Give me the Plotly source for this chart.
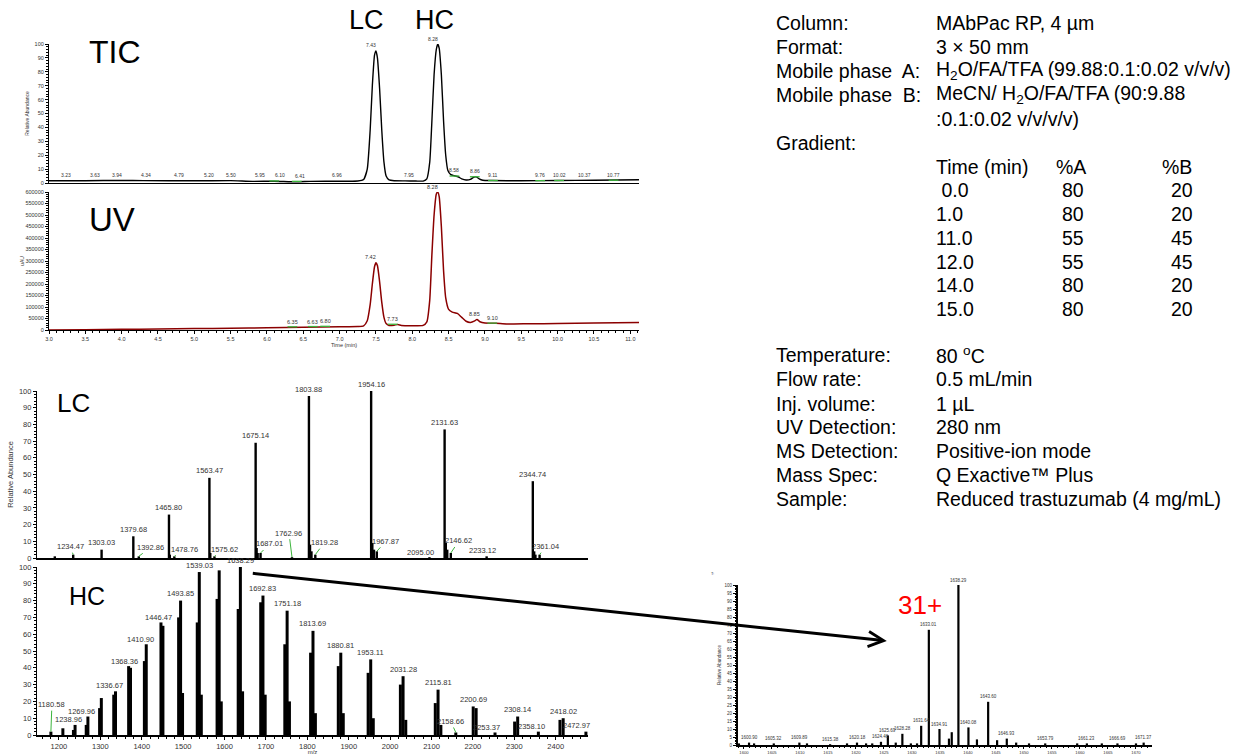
import plotly.graph_objects as go

W, H = 1248, 755

# ---------------- DATA ----------------
# TIC chromatogram: time (min) / relative abundance (%)
tic_t = [3.00, 3.50, 4.00, 4.30, 5.00, 5.50, 5.80, 6.10, 6.40, 6.60, 7.00, 7.25, 7.33, 7.38, 7.42,
         7.45, 7.48, 7.50, 7.52, 7.55, 7.58, 7.61, 7.64, 7.68, 7.75, 7.90, 8.05, 8.15, 8.20, 8.24,
         8.27, 8.30, 8.33, 8.35, 8.37, 8.40, 8.43, 8.46, 8.49, 8.53, 8.58, 8.63, 8.68, 8.74, 8.80,
         8.85, 8.88, 8.92, 8.97, 9.10, 9.50, 10.00, 10.50, 11.12]
tic_i = [1.6, 1.6, 1.9, 1.7, 1.6, 1.7, 1.2, 1.3, 0.9, 1.2, 1.3, 1.4, 2.5, 10, 38,
         70, 92, 95, 90, 68, 38, 15, 5, 2.2, 1.6, 1.5, 1.4, 1.4, 3, 15,
         45, 78, 96, 100, 97, 78, 45, 20, 9, 6, 5.2, 4.5, 3, 2.2, 2.6,
         4.2, 4.4, 3, 2, 1.8, 1.6, 1.8, 2.0, 2.3]
tic_lbl_t = [3.23, 3.63, 3.94, 4.34, 4.79, 5.20, 5.50, 5.95, 6.10, 6.41, 6.96, 7.43, 7.95,
             8.28, 8.58, 8.86, 9.11, 9.76, 10.02, 10.37, 10.77]
tic_lbl_i = [2, 2, 2, 2, 2, 2, 2, 1.5, 1.5, 1.2, 1.5, 95, 1.6, 100, 5.2, 4.4, 1.8, 1.7, 1.8, 1.9, 2.0]
tic_green_t = [6.10, 6.41, 8.58, 8.86, 9.11, 9.76, 10.02, 10.77]
tic_green_i = [1.5, 1.2, 5.0, 4.5, 1.8, 1.7, 1.8, 2.0]

# UV chromatogram: time (min) / signal (uAU)
uv_t = [3.00, 3.50, 4.00, 4.50, 5.00, 5.50, 6.00, 6.50, 7.00, 7.25, 7.33, 7.38, 7.42, 7.45, 7.48,
        7.50, 7.52, 7.55, 7.58, 7.61, 7.64, 7.68, 7.75, 7.80, 7.85, 8.00, 8.15, 8.20, 8.24, 8.27,
        8.30, 8.33, 8.35, 8.37, 8.40, 8.43, 8.46, 8.50, 8.55, 8.62, 8.68, 8.74, 8.80, 8.86, 8.89,
        8.93, 9.00, 9.15, 9.30, 9.60, 10.00, 10.50, 11.12]
uv_i = [0, 1500, 3000, 4500, 6000, 7500, 9500, 12000, 14000, 15000, 18000, 40000, 110000, 200000, 275000,
        292000, 280000, 210000, 120000, 55000, 28000, 20000, 21000, 24000, 20000, 19000, 20000, 35000, 130000, 330000,
        500000, 590000, 600000, 580000, 450000, 260000, 140000, 90000, 78000, 72000, 55000, 38000, 33000, 40000, 46000,
        36000, 30000, 29000, 26000, 27000, 28000, 30000, 33000]
uv_lbl_t = [6.35, 6.63, 6.80, 7.42, 7.73, 8.28, 8.85, 9.10]
uv_lbl_i = [12000, 13000, 14000, 292000, 22000, 600000, 44000, 30000]
uv_green_t = [6.35, 6.63, 6.80, 7.73, 9.10]
uv_green_i = [14000, 15000, 16000, 25000, 30000]

# LC mass spectrum: m/z / relative abundance (%)
lc_mz = [1190.0, 1234.47, 1303.03, 1379.68, 1392.86, 1465.80, 1467.8, 1478.76, 1563.47, 1565.6,
         1575.62, 1675.14, 1677.5, 1680.0, 1687.01, 1762.96, 1803.88, 1806.5, 1810.0, 1819.28,
         1954.16, 1957.0, 1961.0, 1967.87, 2095.00, 2131.63, 2134.5, 2138.0, 2146.62, 2233.12,
         2344.74, 2348.0, 2351.0, 2361.04]
lc_int = [1, 2, 5, 13, 1, 26, 2, 1, 48, 3,
          1, 69, 6, 3, 3, 0.5, 97, 8, 4, 2,
          100, 9, 5, 4, 0.5, 77, 9, 5, 3, 1,
          46, 4, 2, 2]
lc_lbl_plain = [1303.03, 1379.68, 1465.80, 1563.47, 1675.14, 1803.88, 1954.16, 2131.63, 2344.74]
lc_lbl_lead = [1234.47, 1392.86, 1478.76, 1575.62, 1687.01, 1762.96, 1819.28, 1967.87, 2095.00,
               2146.62, 2233.12, 2361.04]

# HC mass spectrum: m/z / relative abundance (%)
hc_mz = [1180.58, 1209.5, 1235.0, 1238.96, 1265.9, 1269.96, 1298.2, 1302.4, 1332.4, 1336.67,
         1368.36, 1372.8, 1406.4, 1410.90, 1446.47, 1451.2, 1489.1, 1493.85, 1498.6, 1534.1,
         1539.03, 1543.9, 1582.0, 1587.1, 1592.1, 1633.01, 1638.29, 1643.60, 1687.4, 1692.83,
         1698.2, 1745.6, 1751.18, 1756.8, 1807.9, 1813.69, 1819.5, 1874.8, 1880.81, 1886.8,
         1946.9, 1953.11, 1959.3, 2024.8, 2031.28, 2037.8, 2109.1, 2115.81, 2122.6, 2158.66,
         2200.69, 2207.8, 2253.37, 2300.8, 2308.14, 2358.10, 2410.3, 2418.02, 2472.97]
hc_int = [2, 4, 3, 6, 6, 11, 16, 22, 24, 26,
          41, 40, 44, 54, 67, 65, 70, 80, 25, 67,
          97, 24, 81, 98, 20, 75, 100, 26, 79, 83,
          24, 54, 74, 20, 49, 62, 13, 41, 49, 13,
          37, 45, 10, 30, 35, 9, 19, 27, 6, 1.5,
          17, 16, 1.5, 8, 11, 2, 9, 10, 2]
hc_lbl_plain = [1493.85, 1539.03, 1638.29, 1692.83, 1751.18, 1813.69, 1880.81, 1953.11,
                2031.28, 2115.81, 2200.69, 2308.14, 2418.02]
hc_lbl_lead = [1180.58, 1238.96, 1269.96, 1336.67, 1368.36, 1410.90, 1446.47, 2158.66,
               2253.37, 2358.10, 2472.97]

# Zoomed HC spectrum (31+ charge state)
zs_mz = [1599.1, 1600.90, 1601.8, 1605.32, 1609.89, 1611.25, 1615.38, 1618.4, 1620.18, 1621.8,
         1622.9, 1624.46, 1625.69, 1627.1, 1628.28, 1629.8, 1630.9, 1631.64, 1633.01, 1634.91,
         1636.6, 1637.1, 1638.29, 1640.08, 1641.6, 1643.60, 1645.2, 1646.93, 1648.6, 1650.9,
         1653.79, 1659.5, 1661.23, 1663.9, 1666.69, 1670.0, 1671.37]
zs_int = [1, 1.5, 1, 1, 1.5, 1, 0.5, 1, 1.5, 1,
          1, 2, 6, 1.5, 7, 1, 1, 12, 72, 10,
          4, 8, 100, 11, 3.5, 27, 3, 4, 1.5, 1,
          1, 1, 1, 1, 1, 1, 1.5]
zs_lbl = [1600.90, 1605.32, 1609.89, 1615.38, 1620.18, 1624.46, 1625.69, 1628.28, 1631.64,
          1633.01, 1634.91, 1638.29, 1640.08, 1643.60, 1646.93, 1653.79, 1661.23, 1666.69, 1671.37]

# Method conditions text
cond_keys = ["Column:", "Format:", "Mobile phase\u00a0 A:", "Mobile phase\u00a0 B:", "", "Gradient:"]
cond_vals = ["MAbPac RP, 4 µm", "3 \u00d7 50 mm",
             "H<sub>2</sub>O/FA/TFA (99.88:0.1:0.02 v/v/v)",
             "MeCN/ H<sub>2</sub>O/FA/TFA (90:9.88", ":0.1:0.02 v/v/v/v)", ""]
grad_head = ["Time (min)", "%A", "%B"]
grad_time = ["\u00a00.0", "1.0", "11.0", "12.0", "14.0", "15.0"]
grad_A = [80, 80, 55, 55, 80, 80]
grad_B = [20, 20, 45, 45, 20, 20]
misc_keys = ["Temperature:", "Flow rate:", "Inj. volume:", "UV Detection:", "MS Detection:",
             "Mass Spec:", "Sample:"]
misc_vals = ["80 <sup>o</sup>C", "0.5 mL/min", "1 µL", "280 nm", "Positive-ion mode",
             "Q Exactive\u2122 Plus", "Reduced trastuzumab (4 mg/mL)"]

# ---------------- STYLE / LAYOUT ----------------
FONT = "Liberation Sans, Arial, sans-serif"
GREEN = "#3cb43c"
UVRED = "#8b0000"
# small horizontal nudges (px) for crowded chromatogram labels
tic_nudge = {5.95: -3, 6.10: 6, 6.41: 3}


def px_x(p):
    return p / W


def px_y(p):
    return 1 - p / H


def sticks(xs, ys):
    X, Y = [], []
    for x, y in zip(xs, ys):
        X += [x, x, None]
        Y += [0, y, None]
    return X, Y


fig = go.Figure()

# chromatograms
fig.add_trace(go.Scatter(x=tic_t, y=tic_i, mode="lines", xaxis="x", yaxis="y",
                         line=dict(color="black", width=1.4, shape="spline", smoothing=0.5)))
fig.add_trace(go.Scatter(x=tic_green_t, y=tic_green_i, mode="markers", xaxis="x", yaxis="y",
                         marker=dict(symbol="line-ew", size=7, line=dict(color=GREEN, width=1.3))))
fig.add_trace(go.Scatter(x=uv_t, y=uv_i, mode="lines", xaxis="x2", yaxis="y2",
                         line=dict(color=UVRED, width=1.5, shape="spline", smoothing=0.5)))
fig.add_trace(go.Scatter(x=uv_green_t, y=uv_green_i, mode="markers", xaxis="x2", yaxis="y2",
                         marker=dict(symbol="line-ew", size=7, line=dict(color=GREEN, width=1.3))))

# spectra
sx, sy = sticks(lc_mz, lc_int)
fig.add_trace(go.Scatter(x=sx, y=sy, mode="lines", xaxis="x3", yaxis="y3",
                         line=dict(color="black", width=2.4)))
sx, sy = sticks(hc_mz, hc_int)
fig.add_trace(go.Scatter(x=sx, y=sy, mode="lines", xaxis="x4", yaxis="y4",
                         line=dict(color="black", width=3)))
sx, sy = sticks(zs_mz, zs_int)
fig.add_trace(go.Scatter(x=sx, y=sy, mode="lines", xaxis="x5", yaxis="y5",
                         line=dict(color="black", width=2.2)))


def add_plain_labels(xref, yref, xs, ys, size, nudge=None):
    nudge = nudge or {}
    for x, y in zip(xs, ys):
        fig.add_annotation(x=x, y=y, xref=xref, yref=yref, text="{:.2f}".format(x), showarrow=False,
                           yanchor="bottom", yshift=0.5, xshift=nudge.get(x, 0),
                           font=dict(size=size, color="#333", family=FONT))


def add_lead_labels(xref, yref, xs, ys, offsets, size):
    for x, y in zip(xs, ys):
        ax, ay = offsets[x]
        fig.add_annotation(x=x, y=y, xref=xref, yref=yref, text="{:.2f}".format(x),
                           showarrow=True, ax=ax, ay=ay, arrowhead=0, arrowwidth=1,
                           arrowcolor=GREEN, standoff=0,
                           font=dict(size=size, color="#333", family=FONT))


add_plain_labels("x", "y", tic_lbl_t, tic_lbl_i, 5, tic_nudge)
add_plain_labels("x2", "y2", uv_lbl_t, uv_lbl_i, 5.5)

lc_h = dict(zip(lc_mz, lc_int))
hc_h = dict(zip(hc_mz, hc_int))
zs_h = dict(zip(zs_mz, zs_int))

add_plain_labels("x3", "y3", lc_lbl_plain, [lc_h[m] for m in lc_lbl_plain], 7.5)
lc_off = {1234.47: (-3, -8), 1392.86: (12, -9), 1478.76: (10, -7), 1575.62: (10, -7),
          1687.01: (9, -9), 1762.96: (-3, -24), 1819.28: (9, -12), 1967.87: (9, -10),
          2095.00: (-9, -5), 2146.62: (8, -12), 2233.12: (-4, -6), 2361.04: (6, -8)}
add_lead_labels("x3", "y3", lc_lbl_lead, [lc_h[m] for m in lc_lbl_lead], lc_off, 7.5)

add_plain_labels("x4", "y4", hc_lbl_plain, [hc_h[m] for m in hc_lbl_plain], 7.5)
hc_off = {1180.58: (1, -27), 1238.96: (-7, -5), 1269.96: (-6, -5), 1336.67: (-6, -6),
          1368.36: (-4, -5), 1410.90: (-6, -5), 1446.47: (-2, -5), 2158.66: (-5, -11),
          2253.37: (-9, -5), 2358.10: (-7, -5), 2472.97: (-9, -6)}
add_lead_labels("x4", "y4", hc_lbl_lead, [hc_h[m] for m in hc_lbl_lead], hc_off, 7.5)

add_plain_labels("x5", "y5", zs_lbl, [zs_h[m] for m in zs_lbl], 4.5)

# big panel titles
big = [("TIC", 115, 52, 32, "black"), ("LC", 366, 20, 27, "black"), ("HC", 434, 20, 27, "black"),
       ("UV", 112, 220, 33, "black"), ("LC", 73, 403, 26, "black"), ("HC", 87, 596, 25, "black"),
       ("31+", 920, 605, 26, "red")]
for txt, x, y, s, c in big:
    fig.add_annotation(x=px_x(x), y=px_y(y), xref="paper", yref="paper", text=txt, showarrow=False,
                       xanchor="center", yanchor="middle", font=dict(size=s, color=c, family=FONT))

fig.add_annotation(x=px_x(712), y=px_y(578), xref="paper", yref="paper", text="T:", showarrow=False,
                   font=dict(size=4, color="#333", family=FONT))

# arrow from HC 31+ peak to zoomed spectrum
fig.add_annotation(x=1625.5, y=65, xref="x5", yref="y5", ax=-637, ay=-68, axref="pixel", ayref="pixel",
                   showarrow=True, arrowhead=5, arrowsize=1.0, arrowwidth=3, arrowcolor="black",
                   standoff=0, text=" ")

# conditions text
TS = 19.5
KX, VX = 774, 934


def put(txt, x, y):
    fig.add_annotation(x=px_x(x), y=px_y(y), xref="paper", yref="paper", text=txt, showarrow=False,
                       xanchor="left", yanchor="middle", font=dict(size=TS, color="black", family=FONT))


key_y = [23, 47, 71, 95, 119, 143]
for k, v, y in zip(cond_keys, cond_vals, key_y):
    if k:
        put(k, KX, y)
    if v:
        put(v, VX, y)
for txt, x in zip(grad_head, [VX, 1054, 1160]):
    put(txt, x, 167)
row_y = [190, 214, 238, 262, 285, 309]
for t, a, b, y in zip(grad_time, grad_A, grad_B, row_y):
    put(t, VX, y)
    put(str(a), 1060, y)
    put(str(b), 1169, y)
misc_y = [355, 379, 404, 427, 451, 475, 499]
for k, v, y in zip(misc_keys, misc_vals, misc_y):
    put(k, KX, y)
    put(v, VX, y)


def ax_style(**kw):
    base = dict(showline=True, linecolor="black", linewidth=1.2, showgrid=False, zeroline=False,
                ticks="outside", tickcolor="black", ticklen=3, tickwidth=0.8, automargin=False,
                tickfont=dict(size=5.5, color="#333", family=FONT))
    base.update(kw)
    return base


def minor(d, ln=1.5):
    return dict(ticks="outside", dtick=d, ticklen=ln, tickwidth=0.6, tickcolor="black", showgrid=False)


fig.update_layout(
    width=W, height=H, margin=dict(l=0, r=0, t=0, b=0), template="none",
    paper_bgcolor="white", plot_bgcolor="rgba(0,0,0,0)", showlegend=False,
    font=dict(family=FONT, color="black"),
    xaxis=ax_style(domain=[px_x(49), px_x(639)], range=[3.0, 11.12], anchor="y",
                   showticklabels=False, ticks=""),
    yaxis=ax_style(domain=[px_y(183), px_y(44)], range=[0, 100], anchor="x", dtick=10,
                   minor=minor(2),
                   title=dict(text="Relative Abundance", font=dict(size=5, color="#333"), standoff=4)),
    xaxis2=ax_style(domain=[px_x(49), px_x(639)], range=[3.0, 11.12], anchor="y2", dtick=0.5,
                    tickformat=".1f", minor=minor(0.1),
                    title=dict(text="Time (min)", font=dict(size=5.5, color="#333"), standoff=2)),
    yaxis2=ax_style(domain=[px_y(330), px_y(192)], range=[0, 600000], anchor="x2", dtick=50000,
                    tickformat="d", minor=minor(10000),
                    title=dict(text="uAU", font=dict(size=5, color="#333"), standoff=0)),
    xaxis3=ax_style(domain=[px_x(37), px_x(588)], range=[1147, 2478], anchor="y3",
                    showticklabels=False, ticks="", linewidth=2),
    yaxis3=ax_style(domain=[px_y(558), px_y(391)], range=[0, 100], anchor="x3", dtick=10,
                    minor=minor(2), tickfont=dict(size=7.5, color="#333", family=FONT),
                    title=dict(text="Relative Abundance", font=dict(size=7.5, color="#333"), standoff=4)),
    xaxis4=ax_style(domain=[px_x(37), px_x(588)], range=[1147, 2478], anchor="y4", dtick=100,
                    minor=minor(20), linewidth=2, tickfont=dict(size=7.5, color="#333", family=FONT),
                    title=dict(text="m/z", font=dict(size=6, color="#333"), standoff=1)),
    yaxis4=ax_style(domain=[px_y(735), px_y(567)], range=[0, 100], anchor="x4", dtick=10,
                    minor=minor(2), tickfont=dict(size=7.5, color="#333", family=FONT)),
    xaxis5=ax_style(domain=[px_x(738), px_x(1152)], range=[1598.93, 1672.86], anchor="y5", dtick=5,
                    ticklen=2, minor=minor(1, 1), linewidth=2,
                    tickfont=dict(size=4.2, color="#333", family=FONT)),
    yaxis5=ax_style(domain=[px_y(745), px_y(585)], range=[0, 100], anchor="x5", dtick=5,
                    minor=minor(1), linewidth=2, tickfont=dict(size=4.5, color="#333", family=FONT),
                    title=dict(text="Relative Abundance", font=dict(size=4.5, color="#333"), standoff=3)),
)

fig.write_html("out.html")
